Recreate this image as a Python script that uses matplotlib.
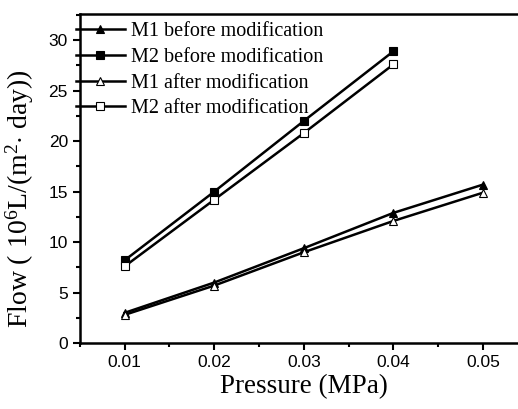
import numpy as np
import matplotlib.pyplot as plt
from matplotlib.ticker import MultipleLocator

pressure = [0.01, 0.02, 0.03, 0.04, 0.05]
pressure_m2 = [0.01, 0.02, 0.03, 0.04]

m1_before = [3.0, 6.0, 9.4, 12.9, 15.7]
m2_before = [8.2, 15.0, 22.0, 28.9]
m1_after = [2.8, 5.7, 9.0, 12.1, 14.9]
m2_after = [7.6, 14.2, 20.8, 27.6]

serif = ['Liberation Serif', 'DejaVu Serif']
sans = ['Liberation Sans', 'DejaVu Sans']

plt.rcParams['mathtext.fontset'] = 'custom'
plt.rcParams['mathtext.rm'] = 'Liberation Serif'
plt.rcParams['mathtext.it'] = 'Liberation Serif:italic'

fig = plt.figure(figsize=(5.18, 4.09), dpi=100)
ax = fig.add_axes([0.154, 0.161, 0.865, 0.805])

kw = dict(color='black', lw=1.8, ms=6, markeredgewidth=0.8)
ax.plot(pressure, m1_before, marker='^', mfc='black', label='M1 before modification', **kw)
ax.plot(pressure_m2, m2_before, marker='s', mfc='black', label='M2 before modification', **kw)
ax.plot(pressure, m1_after, marker='^', mfc='white', label='M1 after modification', **kw)
ax.plot(pressure_m2, m2_after, marker='s', mfc='white', label='M2 after modification', **kw)

ax.set_xlim(0.005, 0.055)
ax.set_ylim(0, 32.6)
ax.set_xticks([0.01, 0.02, 0.03, 0.04, 0.05])
ax.set_xticklabels(['0.01', '0.02', '0.03', '0.04', '0.05'])
ax.set_yticks(range(0, 31, 5))
ax.xaxis.set_minor_locator(MultipleLocator(0.005))
ax.yaxis.set_minor_locator(MultipleLocator(2.5))
ax.tick_params(which='major', direction='out', length=5, width=1.5, labelsize=12.5)
ax.tick_params(which='minor', direction='out', length=3, width=1.5)
for lab in ax.get_xticklabels() + ax.get_yticklabels():
    lab.set_family(sans)
for sp in ax.spines.values():
    sp.set_linewidth(1.8)

ax.set_xlabel('Pressure (MPa)', family=serif, fontsize=19.5, labelpad=3)
ax.set_ylabel(r'Flow ( 10$^{\rm 6}$L/(m$^{\rm 2}$$\cdot$ day))', family=serif, fontsize=20)
ax.yaxis.set_label_coords(-0.097, 0.44)

leg = ax.legend(loc='upper left', bbox_to_anchor=(-0.008, 0.975), frameon=False,
                prop={'family': serif, 'size': 14.5},
                handlelength=2.4, handletextpad=0.3, borderaxespad=0.0, borderpad=0.0,
                labelspacing=0.33)

fig.savefig('out.png', dpi=100)
